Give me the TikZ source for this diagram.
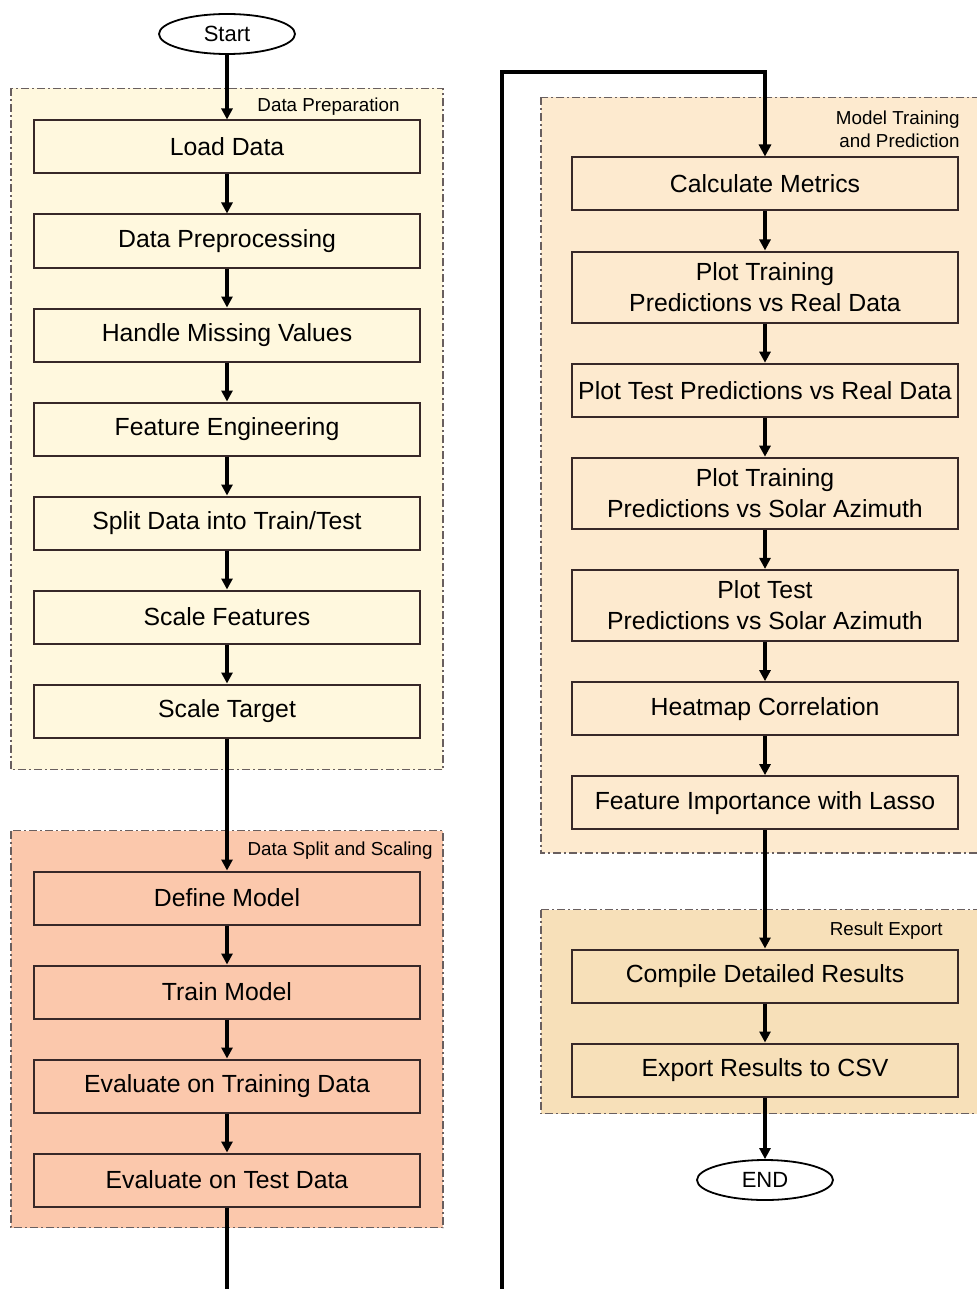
\documentclass[tikz,border=0pt]{standalone}
\usepackage{fontspec}
\setmainfont{Liberation Sans}
\usetikzlibrary{positioning,arrows.meta,shapes.geometric,calc,backgrounds}
\definecolor{prepfill}{RGB}{255,248,222}
\definecolor{splitfill}{RGB}{251,200,172}
\definecolor{trainfill}{RGB}{253,234,207}
\definecolor{exportfill}{RGB}{247,224,185}
\definecolor{boxline}{RGB}{55,40,40}
\definecolor{grpline}{RGB}{105,95,95}

\begin{document}
\begin{tikzpicture}[node distance=19.5pt,
  box/.style={rectangle, draw=boxline, line width=1pt, minimum width=193pt, minimum height=26.5pt,
              inner xsep=2pt, inner ysep=5.5pt, align=center, font=\fontsize{12.4}{15.5}\selectfont},
  term/.style={ellipse, draw=black, line width=0.9pt, minimum width=68pt, minimum height=20pt,
               inner sep=1pt, font=\fontsize{11}{13}\selectfont},
  grp/.style={draw=grpline, line width=0.7pt, dash pattern=on 4pt off 1.5pt on 1pt off 1.5pt},
  lbl/.style={anchor=east, align=right, inner sep=0pt, font=\fontsize{9.4}{11.5}\selectfont},
  arr/.style={-{Triangle[length=5.5pt,width=5.5pt]}, line width=1.6pt},
  loop/.style={-{Triangle[length=6pt,width=6pt]}, line width=2pt}]
  \useasboundingbox (0,0) rectangle (488pt,-644.5pt);

  % left column
  \node[term](start) at (113.5pt,-17pt){Start};
  \node[box,fill=prepfill](load) at (113.5pt,-73.5pt){Load Data};
  \node[box,fill=prepfill,below=of load](prep){Data Preprocessing};
  \node[box,fill=prepfill,below=of prep](miss){Handle Missing Values};
  \node[box,fill=prepfill,below=of miss](feat){Feature Engineering};
  \node[box,fill=prepfill,below=of feat](split){Split Data into Train/Test};
  \node[box,fill=prepfill,below=of split](scalef){Scale Features};
  \node[box,fill=prepfill,below=of scalef](scalet){Scale Target};

  \node[box,fill=splitfill](define) at (113.5pt,-449pt){Define Model};
  \node[box,fill=splitfill,below=of define](train){Train Model};
  \node[box,fill=splitfill,below=of train](evaltrain){Evaluate on Training Data};
  \node[box,fill=splitfill,below=of evaltrain](evaltest){Evaluate on Test Data};

  % right column
  \node[box,fill=trainfill](metrics) at (382.5pt,-92pt){Calculate Metrics};
  \node[box,fill=trainfill,below=of metrics](plottrain){Plot Training\\Predictions vs Real Data};
  \node[box,fill=trainfill,below=of plottrain](plottest){Plot Test Predictions vs Real Data};
  \node[box,fill=trainfill,below=of plottest](aztrain){Plot Training\\Predictions vs Solar Azimuth};
  \node[box,fill=trainfill,below=of aztrain](aztest){Plot Test\\Predictions vs Solar Azimuth};
  \node[box,fill=trainfill,below=of aztest](heat){Heatmap Correlation};
  \node[box,fill=trainfill,below=of heat](lasso){Feature Importance with Lasso};

  \node[box,fill=exportfill](compile) at (382.5pt,-488pt){Compile Detailed Results};
  \node[box,fill=exportfill,below=of compile](csv){Export Results to CSV};
  \node[term](finish) at (382.5pt,-590pt){END};

  % group frames
  \begin{pgfonlayer}{background}
    \path[grp,fill=prepfill] ($(load.north west)+(-11pt,15.5pt)$) rectangle ($(scalet.south east)+(11pt,-15.5pt)$);
    \path[grp,fill=splitfill] ($(define.north west)+(-11pt,20pt)$) rectangle ($(evaltest.south east)+(11pt,-10pt)$);
    \path[grp,fill=trainfill] ($(metrics.north west)+(-15pt,29.5pt)$) rectangle ($(lasso.south east)+(11pt,-11.5pt)$);
    \path[grp,fill=exportfill] ($(compile.north west)+(-15pt,19.5pt)$) rectangle ($(csv.south east)+(11pt,-8pt)$);
  \end{pgfonlayer}
  \node[lbl](preplbl) at (200pt,-53.5pt){Data Preparation};
  \node[lbl](splitlbl) at (216.5pt,-425.5pt){Data Split and Scaling};
  \node[lbl](trainlbl) at (480pt,-64.5pt){Model Training\\and Prediction};
  \node[lbl](exportlbl) at (471.5pt,-465.5pt){Result Export};

  % connectors
  \foreach \a/\b in {start/load, load/prep, prep/miss, miss/feat, feat/split, split/scalef,
                     scalef/scalet, scalet/define, define/train, train/evaltrain, evaltrain/evaltest,
                     metrics/plottrain, plottrain/plottest, plottest/aztrain, aztrain/aztest,
                     aztest/heat, heat/lasso, lasso/compile, compile/csv, csv/finish}
    \draw[arr] (\a) -- (\b);

  \coordinate (loopbot) at (251pt,-660pt);
  \coordinate (looptop) at (251pt,-36pt);
  \draw[loop] (evaltest.south) |- (loopbot) -- (looptop) -| (metrics.north);
\end{tikzpicture}
\end{document}
